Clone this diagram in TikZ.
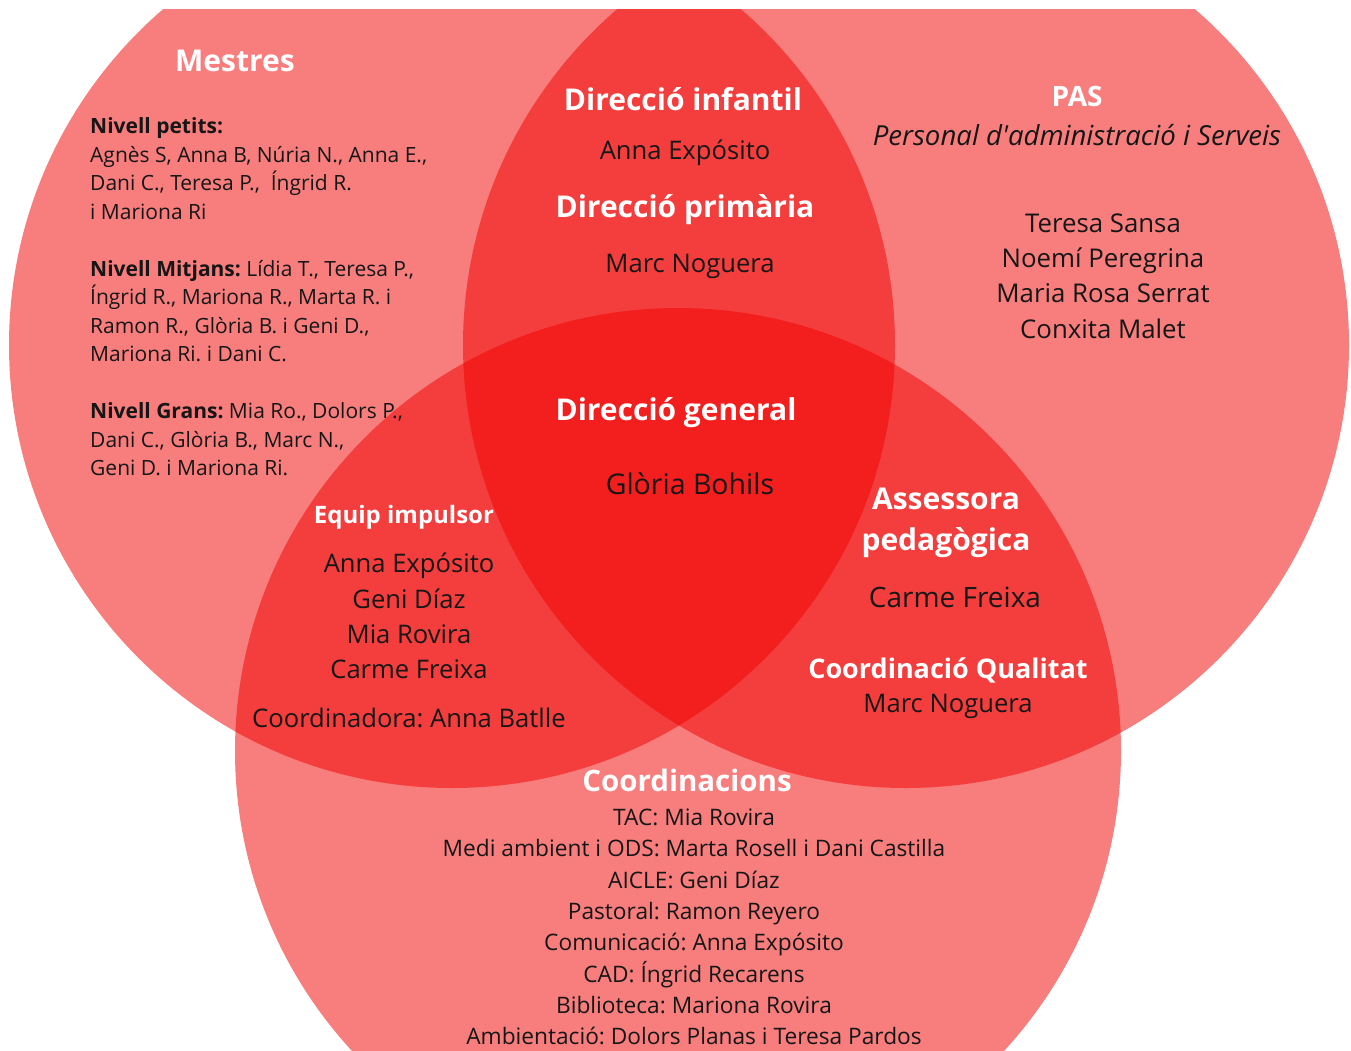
\documentclass[tikz,border=0pt]{standalone}
\usepackage{fontspec}
\setmainfont{Open Sans}[Ligatures=TeXOff]
\frenchspacing
\usetikzlibrary{positioning}
\definecolor{vennred}{RGB}{241,0,0}
\definecolor{inkdark}{RGB}{22,22,22}
\tikzset{
  set/.style={fill=vennred, fill opacity=0.51},
  head/.style={text=white, font=\bfseries\fontsize{30}{41}\selectfont, align=center, inner sep=0pt},
  names/.style={text=inkdark, font=\fontsize{25.6}{35.3}\selectfont, align=center, inner sep=0pt},
  small/.style={text=inkdark, font=\fontsize{21}{28.5}\selectfont, align=left, inner sep=0pt}
}

\begin{document}
\begin{tikzpicture}[x=1pt, y=-1pt, node distance=54pt]
\useasboundingbox (0,0) rectangle (1351,1050);
\begin{scope}
\clip (0,9) rectangle (1351,1050);
\fill[set] (452,345) circle (443pt);
\fill[set] (906,345) circle (443pt);
\fill[set] (678,751) circle (443pt);
\end{scope}

\node[head] (mes) at (235,61) {Mestres};
\node[small, anchor=west] (mesn) at (90,297) {\textbf{Nivell petits:}\\
Agnès S, Anna B, Núria N., Anna E.,\\
Dani C., Teresa P.,\ \ Íngrid R.\\
i Mariona Ri\\[28.5pt]
\textbf{Nivell Mitjans:} Lídia T., Teresa P.,\\
Íngrid R., Mariona R., Marta R. i\\
Ramon R., Glòria B. i Geni D.,\\
Mariona Ri. i Dani C.\\[28.5pt]
\textbf{Nivell Grans:} Mia Ro., Dolors P.,\\
Dani C., Glòria B., Marc N.,\\
Geni D. i Mariona Ri.};

\node[head] (dinf) at (683,99) {Direcció infantil};
\node[names] (dinfn) [below of=dinf, xshift=2pt] {Anna Expósito};
\node[head] (dprim) at (685,210) {Direcció primària};
\node[names] (dprimn) [below of=dprim, node distance=56pt, xshift=5pt] {Marc Noguera};

\node[head, font=\bfseries\fontsize{28}{32}\selectfont] (pas) at (1077,96) {PAS};
\node[names, font=\itshape\fontsize{27.6}{30}\selectfont] (pasfull) [below of=pas, node distance=39pt] {Personal d'administració i Serveis};
\node[names, font=\fontsize{25.8}{35.3}\selectfont] (pasn) at (1103,276) {Teresa Sansa\\Noemí Peregrina\\Maria Rosa Serrat\\Conxita Malet};

\node[head] (dgen) at (676,413) {Direcció general};
\node[names, font=\fontsize{28.5}{32}\selectfont] (dgenn) [below of=dgen, node distance=71pt, xshift=14pt] {Glòria Bohils};

\node[head, font=\bfseries\fontsize{24}{30}\selectfont] (equip) at (404,517) {Equip impulsor};
\node[names] (equipn) at (409,616) {Anna Expósito\\Geni Díaz\\Mia Rovira\\Carme Freixa};
\node[names] (coord) at (409,718) {Coordinadora: Anna Batlle};

\node[head] (asse) at (946,523) {Assessora\\pedagògica};
\node[names, font=\fontsize{28}{32}\selectfont] (assen) at (955,597) {Carme Freixa};
\node[head, font=\bfseries\fontsize{27}{32}\selectfont] (qual) at (948,670) {Coordinació Qualitat};
\node[names] (qualn) [below of=qual, node distance=36pt] {Marc Noguera};

\node[head, font=\bfseries\fontsize{29.5}{34}\selectfont] (coords) at (687,780) {Coordinacions};
\node[names, font=\fontsize{22.7}{31.3}\selectfont] (coordsn) at (694,927) {TAC: Mia Rovira\\
Medi ambient i ODS: Marta Rosell i Dani Castilla\\
AICLE: Geni Díaz\\
Pastoral: Ramon Reyero\\
Comunicació: Anna Expósito\\
CAD: Íngrid Recarens\\
Biblioteca: Mariona Rovira\\
Ambientació: Dolors Planas i Teresa Pardos};
\end{tikzpicture}
\end{document}
